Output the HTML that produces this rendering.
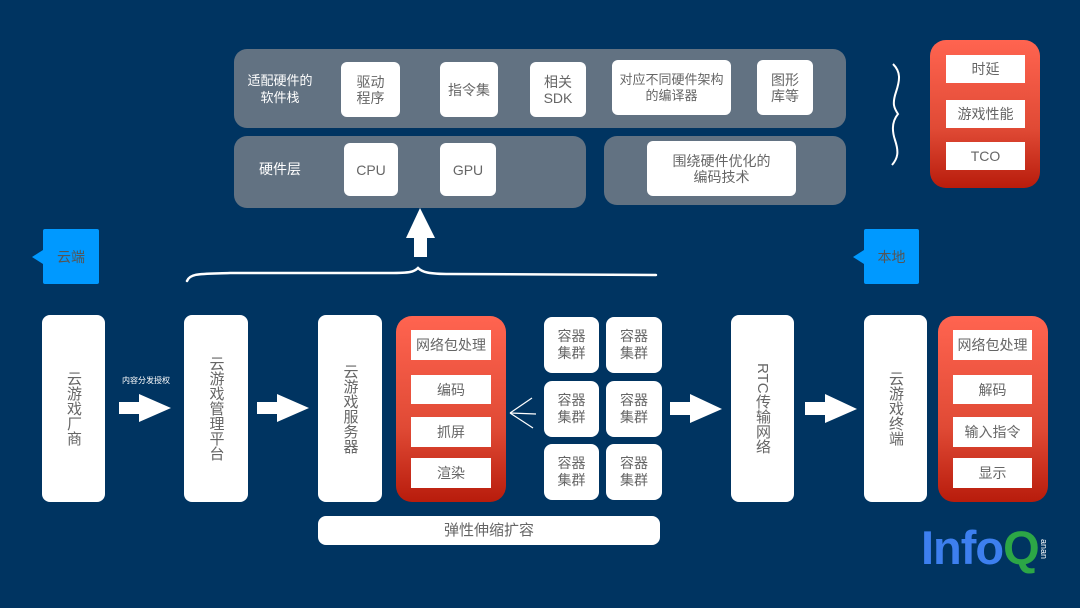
<!DOCTYPE html>
<html><head><meta charset="utf-8"><style>
*{margin:0;padding:0;box-sizing:border-box}
body{width:1080px;height:608px;background:#003461;position:relative;overflow:hidden;font-family:"Liberation Sans","Noto Sans CJK SC",sans-serif;color:#666}
.a{position:absolute}
.p{position:absolute;background:#627282;border-radius:13px}
.w{position:absolute;background:#fff;border-radius:6px;display:flex;align-items:center;justify-content:center;text-align:center;font-size:14px;line-height:16px;color:#666}
.s{position:absolute;background:#fff;display:flex;align-items:center;justify-content:center;font-size:14px;color:#666}
.r{position:absolute;border-radius:16px;background:linear-gradient(#ff6450,#e04a35 60%,#b81c0c)}
.v{position:absolute;background:#fff;border-radius:8px;display:flex;align-items:center;justify-content:center}
.v span{writing-mode:vertical-rl;font-size:15px;color:#666;letter-spacing:0px}
.lbl{position:absolute;color:#fff;font-size:14px;line-height:17px;text-align:center}
.c{position:absolute;background:#fff;border-radius:8px;display:flex;align-items:center;justify-content:center;text-align:center;font-size:14px;line-height:17px;color:#666}
.call{position:absolute;background:#0099ff;border-radius:2px;font-size:14px;color:#555;display:flex;align-items:center;justify-content:center}
.call:before{content:"";position:absolute;left:-11px;top:21px;border-right:11px solid #0099ff;border-top:7px solid transparent;border-bottom:7px solid transparent}
</style></head><body>
<div class="p" style="left:234px;top:49px;width:612px;height:79px"></div>
<div class="lbl" style="left:240px;top:72px;width:80px;font-size:13px">适配硬件的<br>软件栈</div>
<div class="w" style="left:341px;top:62px;width:59px;height:55px">驱动<br>程序</div>
<div class="w" style="left:440px;top:62px;width:58px;height:55px">指令集</div>
<div class="w" style="left:530px;top:62px;width:56px;height:55px">相关<br>SDK</div>
<div class="w" style="left:612px;top:60px;width:119px;height:55px;font-size:13px">对应不同硬件架构<br>的编译器</div>
<div class="w" style="left:757px;top:60px;width:56px;height:55px">图形<br>库等</div>
<div class="p" style="left:234px;top:136px;width:352px;height:72px"></div>
<div class="lbl" style="left:245px;top:161px;width:70px">硬件层</div>
<div class="w" style="left:344px;top:143px;width:54px;height:53px">CPU</div>
<div class="w" style="left:440px;top:143px;width:56px;height:53px">GPU</div>
<div class="p" style="left:604px;top:136px;width:242px;height:69px"></div>
<div class="w" style="left:647px;top:141px;width:149px;height:55px">围绕硬件优化的<br>编码技术</div>

<svg class="a" style="left:0;top:0" width="1080" height="608">
<polygon points="420,208 435,238 427,238 427,257 414,257 414,238 406,238" fill="#fff"/>
<path d="M187,281 C190,273 200,274 230,273 L390,273 C410,273 414,272 418,268 C422,272 428,274 450,274 L656,275" stroke="#fff" stroke-width="2.5" fill="none" stroke-linecap="round"/>
<path d="M893,64 C901,72 900,80 896,92 C892,104 894,108 898,114 C893,120 891,128 895,140 C899,152 898,158 892,165" stroke="#fff" stroke-width="2" fill="none"/>
<g fill="#fff">
<polygon points="119,402 139,402 139,394 171,408 139,422 139,414 119,414"/>
<polygon points="257,402 277,402 277,394 309,408 277,422 277,414 257,414"/>
<polygon points="670,402 690,402 690,394 722,409 690,423 690,415 670,415"/>
<polygon points="805,402 825,402 825,394 857,409 825,423 825,415 805,415"/>
</g>
<g stroke="#fff" stroke-width="1.2" fill="#fff">
<line x1="510" y1="413" x2="532" y2="398"/><line x1="510" y1="413" x2="536" y2="414"/><line x1="510" y1="413" x2="533" y2="428"/>
</g>
</svg>
<div class="lbl" style="left:110px;top:376px;width:72px;font-size:8px;line-height:10px">内容分发授权</div>

<div class="r" style="left:930px;top:40px;width:110px;height:148px"></div>
<div class="s" style="left:946px;top:55px;width:79px;height:28px">时延</div>
<div class="s" style="left:946px;top:100px;width:79px;height:28px">游戏性能</div>
<div class="s" style="left:946px;top:142px;width:79px;height:28px">TCO</div>

<div class="call" style="left:43px;top:229px;width:56px;height:55px">云端</div>
<div class="call" style="left:864px;top:229px;width:55px;height:55px">本地</div>

<div class="v" style="left:42px;top:315px;width:63px;height:187px"><span>云游戏厂商</span></div>
<div class="v" style="left:184px;top:315px;width:64px;height:187px"><span>云游戏管理平台</span></div>
<div class="v" style="left:318px;top:315px;width:64px;height:187px"><span>云游戏服务器</span></div>
<div class="r" style="left:396px;top:316px;width:110px;height:186px"></div>
<div class="s" style="left:411px;top:330px;width:80px;height:30px">网络包处理</div>
<div class="s" style="left:411px;top:375px;width:80px;height:29px">编码</div>
<div class="s" style="left:411px;top:417px;width:80px;height:30px">抓屏</div>
<div class="s" style="left:411px;top:458px;width:80px;height:30px">渲染</div>

<div class="c" style="left:544px;top:317px;width:55px;height:56px">容器<br>集群</div>
<div class="c" style="left:606px;top:317px;width:56px;height:56px">容器<br>集群</div>
<div class="c" style="left:544px;top:381px;width:55px;height:56px">容器<br>集群</div>
<div class="c" style="left:606px;top:381px;width:56px;height:56px">容器<br>集群</div>
<div class="c" style="left:544px;top:444px;width:55px;height:56px">容器<br>集群</div>
<div class="c" style="left:606px;top:444px;width:56px;height:56px">容器<br>集群</div>
<div class="c" style="left:318px;top:516px;width:342px;height:29px;font-size:15px">弹性伸缩扩容</div>

<div class="v" style="left:731px;top:315px;width:63px;height:187px"><span>RTC传输网络</span></div>
<div class="v" style="left:864px;top:315px;width:63px;height:187px"><span>云游戏终端</span></div>
<div class="r" style="left:938px;top:316px;width:110px;height:186px"></div>
<div class="s" style="left:953px;top:330px;width:79px;height:30px">网络包处理</div>
<div class="s" style="left:953px;top:375px;width:79px;height:29px">解码</div>
<div class="s" style="left:953px;top:417px;width:79px;height:30px">输入指令</div>
<div class="s" style="left:953px;top:458px;width:79px;height:30px">显示</div>

<div class="a" style="left:921px;top:522px;font-size:47px;font-weight:bold;line-height:52px;letter-spacing:-1px;white-space:nowrap"><span style="color:#3d7fef">Info</span><span style="color:#2ca646">Q</span></div>
<div class="a" style="left:1049px;top:539px;font-size:9px;color:#fff;transform:rotate(90deg);transform-origin:left top">anan</div>
</body></html>
